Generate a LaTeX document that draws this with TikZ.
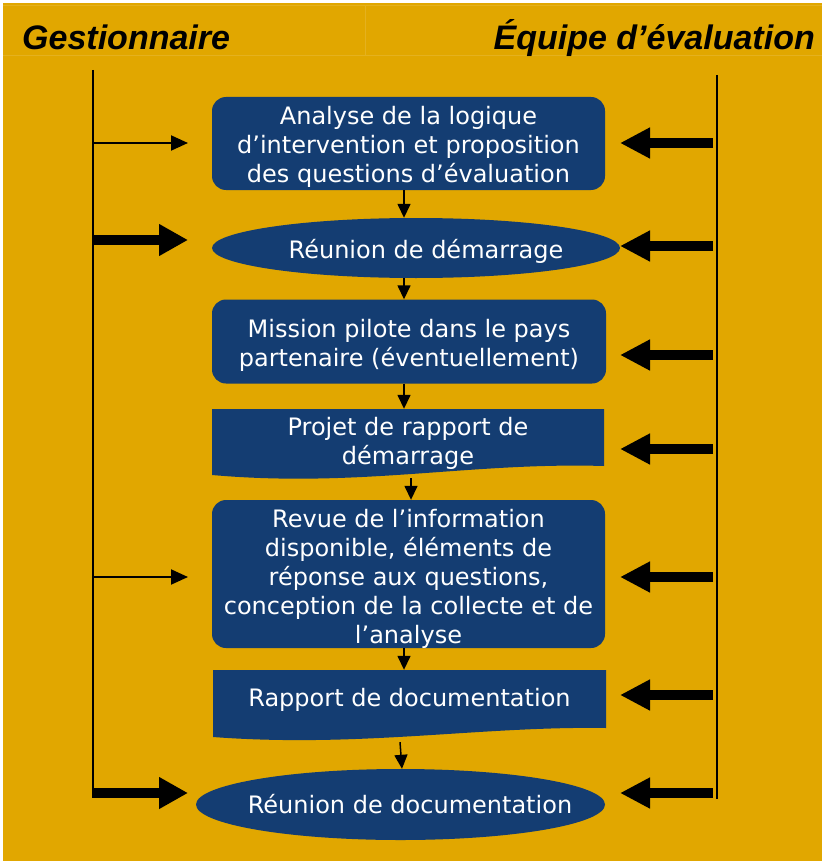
\documentclass[tikz,border=0pt]{standalone}
\usepackage{fontspec}
\setmainfont{DejaVu Sans}
\newfontfamily\headfont{Liberation Sans}
\usetikzlibrary{arrows.meta,shapes.geometric,calc}
\definecolor{gold}{RGB}{225,167,0}
\definecolor{navy}{RGB}{20,61,114}
\newcommand{\lowertext}[2]{\raisebox{-#1}[\height][\depth]{#2}}
\tikzset{
  txt/.style={text=white,font=\fontsize{24}{29}\selectfont},
  box/.style={txt,draw=none,fill=navy,rounded corners=14pt,align=center,inner sep=0pt},
  oval/.style={txt,ellipse,draw=none,fill=navy,inner sep=0pt},
  doc/.style={txt,draw=none,align=center,inner sep=0pt},
  flow/.style={line width=1.5pt,-{Triangle[length=14pt,width=13pt]}},
  thinarr/.style={line width=2pt,-{Triangle[length=17pt,width=15pt]}},
  fatarr/.style={line width=10pt,-{Triangle[length=29pt,width=30pt]}},
  rarr/.style={line width=9.5pt,-{Triangle[length=30pt,width=29pt]}},
  lane/.style={line width=2pt},
  head/.style={font=\headfont\bfseries\itshape\fontsize{34}{38}\selectfont,inner sep=0pt},
}
\begin{document}
\begin{tikzpicture}[x=1pt,y=-1pt]
\useasboundingbox (0,0) rectangle (822,861);
\fill[white] (0,0) rectangle (822,861);
\fill[gold] (3,3) rectangle (822,861);
% faint table lines
\draw[gold!88!white,line width=0.6pt] (3,5) -- (822,5);
\draw[gold!88!white,line width=0.6pt] (3,55) -- (822,55);
\draw[gold!88!white,line width=0.6pt] (365,5) -- (365,55);

% headers
\node[head,anchor=base west] (hg) at (22,50) {Gestionnaire};
\node[head,anchor=base east] (he) at (815,50) {Équipe d’évaluation};

% nodes
\node[box,minimum width=393pt,minimum height=93pt] (n1) at (408.5,143.5)
  {\lowertext{3pt}{\parbox{393pt}{\centering Analyse de la logique\\d’intervention et proposition\\des questions d’évaluation}}};
\node[oval,minimum width=408pt,minimum height=60pt] (n2) at (416,248)
  {\makebox[0pt]{\lowertext{3pt}{\hspace{20pt}Réunion de démarrage}}};
\node[box,minimum width=394pt,minimum height=84pt] (n3) at (409,341.5)
  {\lowertext{4pt}{\parbox{394pt}{\centering Mission pilote dans le pays\\partenaire (éventuellement)}}};
% document 4
\fill[navy] (212,409) -- (604,409) -- (604,466)
  .. controls (470,462) and (360,488) .. (212,475) -- cycle;
\node[doc,minimum width=392pt,minimum height=69pt] (n4) at (408,443.5)
  {Projet de rapport de\\démarrage};
\node[box,minimum width=393pt,minimum height=148pt] (n5) at (408.5,574)
  {\lowertext{5pt}{\parbox{393pt}{\centering Revue de l’information\\disponible, éléments de\\réponse aux questions,\\conception de la collecte et de\\l’analyse}}};
% document 6
\fill[navy] (213,670) -- (606,670) -- (606,728)
  .. controls (480,726) and (360,748) .. (213,737) -- cycle;
\node[doc,minimum width=393pt,minimum height=72pt,
  label={[doc,yshift=6pt]center:Rapport de documentation}] (n6) at (409.5,706) {};
\node[oval,minimum width=409pt,minimum height=71pt] (n7) at (400.5,804.5)
  {\makebox[0pt]{\hspace{19pt}Réunion de documentation}};

% flow arrows
\draw[flow] ([xshift=-4.5pt]n1.south) -- ([xshift=-4.5pt]n1.south |- n2.north);
\draw[flow] ([xshift=-12pt]n2.south) -- ([xshift=-12pt]n2.south |- n3.north);
\draw[flow] ([xshift=-5pt]n3.south) -- ([xshift=-5pt]n3.south |- n4.north);
\draw[flow] ([xshift=3pt]n4.south) -- ([xshift=3pt]n4.south |- n5.north);
\draw[flow] ([xshift=-4.5pt]n5.south) -- ([xshift=-4.5pt]n5.south |- n6.north);
\draw[flow] ([xshift=-9.5pt]n6.south) -- ([xshift=1.5pt]n7.north);

% lanes
\coordinate (lt) at (93,70);
\coordinate (lb) at (93,797);
\coordinate (rt) at (717,75);
\coordinate (rb) at (717,799);
\draw[lane] (lt) -- (lb);
\draw[lane] (rt) -- (rb);

% left arrows
\coordinate (tipL) at (188,0);
\coordinate (a1) at (93,143);
\coordinate (a2) at (94,240);
\coordinate (a3) at (93,577);
\coordinate (a4) at (92,793);
\draw[thinarr] (a1) -- (a1 -| tipL);
\draw[fatarr] (a2) -- (a2 -| tipL);
\draw[thinarr] (a3) -- (a3 -| tipL);
\draw[fatarr] (a4) -- (a4 -| tipL);

% right arrows
\coordinate (tipR) at (620,0);
\coordinate (b1) at (713,143);
\coordinate (b2) at (713,246);
\coordinate (b3) at (713,355);
\coordinate (b4) at (713,449);
\coordinate (b5) at (713,577);
\coordinate (b6) at (713,695);
\coordinate (b7) at (713,793);
\foreach \nm in {b1,b2,b3,b4,b5,b6,b7}{
  \draw[rarr] (\nm) -- (\nm -| tipR);
}
\end{tikzpicture}
\end{document}
